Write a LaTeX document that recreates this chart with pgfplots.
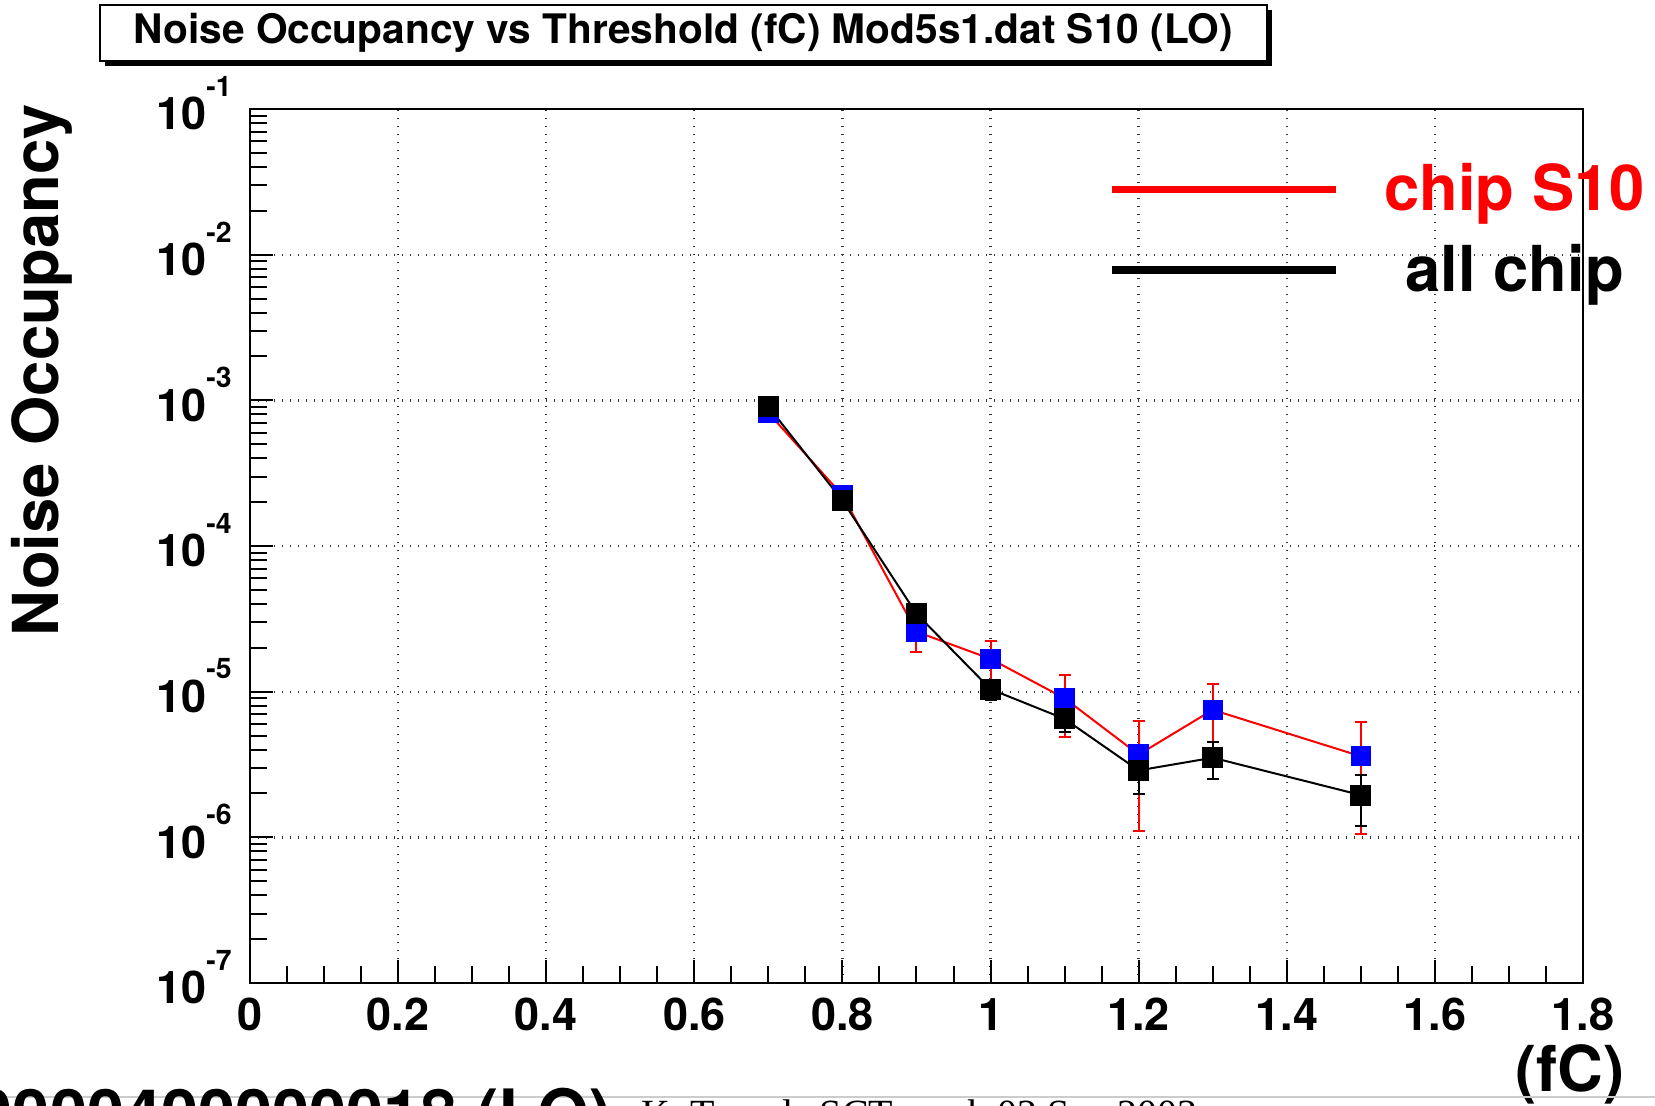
\documentclass[border=0pt]{standalone}
\usepackage{pgfplots}
\usepackage{pgfplotstable}
\pgfplotsset{compat=1.18}
\usepackage{fontspec}
\setmainfont{TeX Gyre Heros}
\newfontfamily\footerfont{Liberation Serif}

% threshold (fC), noise occupancy, error
\pgfplotstableread{
x    y        ey
0.7  8.2e-4   6e-5
0.8  2.23e-4  2e-5
0.9  2.58e-5  7e-6
1.0  1.68e-5  5.6e-6
1.1  9.0e-6   4.1e-6
1.2  3.7e-6   2.6e-6
1.3  7.5e-6   3.8e-6
1.5  3.6e-6   2.55e-6
}\chipSten

\pgfplotstableread{
x    y        ey
0.7  9.05e-4  3e-5
0.8  2.05e-4  1e-5
0.9  3.43e-5  3e-6
1.0  1.04e-5  1.7e-6
1.1  6.5e-6   1.2e-6
1.2  2.88e-6  0.9e-6
1.3  3.52e-6  1.0e-6
1.5  1.95e-6  0.75e-6
}\allchip

\newcommand{\dec}[1]{10\raisebox{10pt}{\fontsize{8.5}{9}\selectfont\bfseries -#1}}

\begin{document}
\begin{tikzpicture}
\useasboundingbox (-75pt,-36.9pt) rectangle (421.5pt,294.9pt);
\begin{axis}[
  at={(0,0)}, anchor=south west,
  scale only axis, width=399.9pt, height=262.2pt,
  ymode=log,
  xmin=0, xmax=1.8, ymin=1e-7, ymax=1e-1,
  xtick={0,0.2,0.4,0.6,0.8,1,1.2,1.4,1.6,1.8},
  xticklabels={0,0.2,0.4,0.6,0.8,1,1.2,1.4,1.6,1.8},
  minor x tick num=3,
  ytick={1e-7,1e-6,1e-5,1e-4,1e-3,1e-2,1e-1},
  yticklabels={\dec{7},\dec{6},\dec{5},\dec{4},\dec{3},\dec{2},\dec{1}},
  tick pos=left, tick align=inside,
  major tick length=7pt, minor tick length=5pt,
  every tick/.style={black, line width=0.6pt},
  grid=major,
  major grid style={dotted, line width=0.7pt, black!80},
  axis line style={line width=0.8pt},
  /pgf/number format/assume math mode=true,
  ticklabel style={font=\fontsize{13.5}{15}\selectfont\bfseries},
  xticklabel style={yshift=-1pt},
  yticklabel style={xshift=-2pt, yshift=1.8pt},
  ylabel={Noise Occupancy},
  ylabel style={at={(axis description cs:-0.156,0.7014)}, anchor=center,
    font=\fontsize{19}{22}\selectfont\bfseries},
  xlabel={(fC)},
  xlabel style={at={(axis description cs:0.99,-0.105)}, anchor=center,
    font=\fontsize{19}{22}\selectfont\bfseries},
  legend style={at={(rel axis cs:0.6437,0.946)}, anchor=north west,
    draw=none, fill=none, inner sep=0pt, row sep=4.5pt, column sep=11.5pt,
    font=\fontsize{19}{22}\selectfont\bfseries},
  legend cell align=center,
]
\addlegendimage{legend image code/.code={\draw[red, line width=2.2pt] (0pt,0pt) -- (67pt,0pt);}}
\addlegendentry{\textcolor{red}{chip S10}}
\addlegendimage{legend image code/.code={\draw[black, line width=2.2pt] (0pt,0pt) -- (67pt,0pt);}}
\addlegendentry{all chip}

\addplot[red, line width=0.6pt, mark=square*, mark size=2.75pt,
  mark options={draw=blue, fill=blue},
  error bars/.cd, y dir=both, y explicit,
  error bar style={red, line width=0.6pt},
  error mark options={red, mark size=1.8pt, line width=0.6pt, rotate=90}]
  table[x=x, y=y, y error=ey] {\chipSten};

\addplot[black, line width=0.6pt, mark=square*, mark size=2.85pt,
  mark options={draw=black, fill=black},
  error bars/.cd, y dir=both, y explicit,
  error bar style={black, line width=0.6pt},
  error mark options={black, mark size=1.8pt, line width=0.6pt, rotate=90}]
  table[x=x, y=y, y error=ey] {\allchip};
\end{axis}

% title box with drop shadow
\fill[black] (-43.5pt,275.1pt) rectangle (306.6pt,291.9pt);
\draw[fill=white, line width=0.5pt] (-45pt,276.6pt) rectangle (305.1pt,293.4pt);
\node[font=\fontsize{12.2}{14}\selectfont\bfseries, inner sep=0pt] at (130pt,285pt)
  {Noise Occupancy vs Threshold (fC) Mod5s1.dat S10 (LO)};

% footer
\draw[black!20, line width=0.6pt] (-75pt,-34.2pt) -- (421.5pt,-34.2pt);
\node[anchor=north east, inner sep=0pt, font=\fontsize{20}{22}\selectfont\bfseries]
  at (108.6pt,-31.2pt) {20030900000400000018 (LO)};
\node[anchor=north west, inner sep=0pt, font=\footerfont\fontsize{12}{14}\selectfont]
  at (117.3pt,-34.8pt) {K. Toyoda  SCT week  02 Sep 2003};
\end{tikzpicture}
\end{document}
